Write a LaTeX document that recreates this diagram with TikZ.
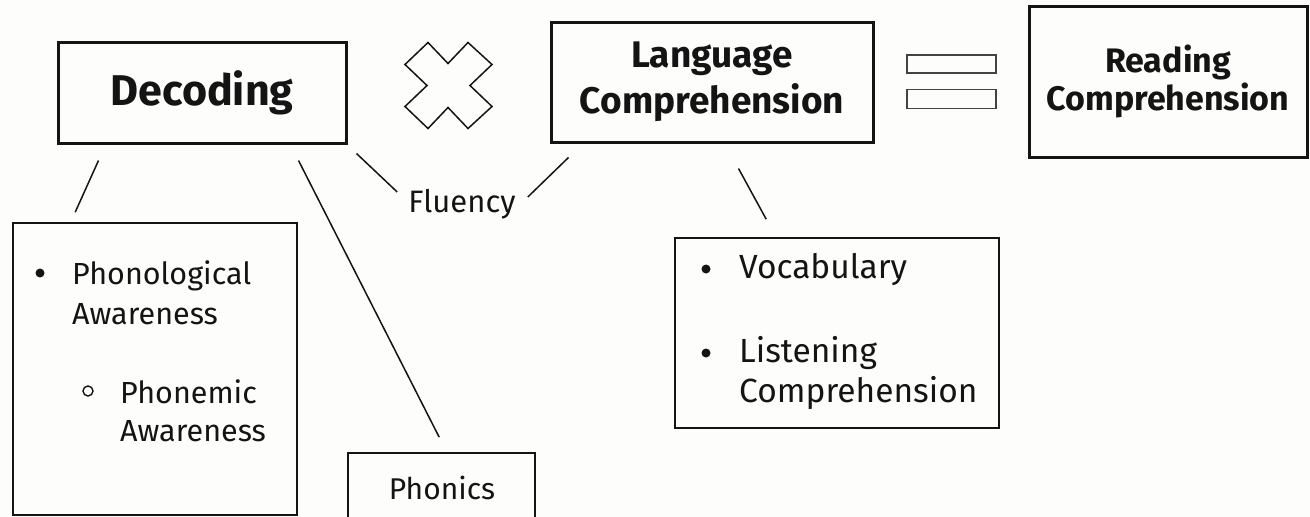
\documentclass[tikz,border=0pt]{standalone}
\usepackage{fontspec}
\setmainfont{Fira Sans}
\usetikzlibrary{positioning,calc}
\definecolor{ink}{HTML}{141414}
\definecolor{paper}{HTML}{FDFDFB}
\tikzset{
  title/.style = {draw=ink, line width=3pt, text=ink, align=center, inner sep=0pt},
  list/.style  = {draw=ink, line width=1.6pt, inner sep=0pt},
  item/.style  = {anchor=west, text=ink, align=left, inner sep=0pt},
  dot/.style   = {circle, fill=ink, minimum size=9pt, inner sep=0pt},
  ring/.style  = {circle, draw=ink, line width=1.4pt, minimum size=10pt, inner sep=0pt},
  tie/.style   = {draw=ink, line width=1.5pt},
}

\begin{document}
\begin{tikzpicture}[x=1pt, y=-1pt]
  \useasboundingbox[fill=paper] (0,0) rectangle (1310,517);
  % top row
  \node[title, minimum width=288pt, minimum height=101pt,
        font=\bfseries\fontsize{43}{46}\selectfont] (dec) at (202,92.5) {Decoding};
  \node[title, minimum width=322pt, minimum height=120pt,
        font=\bfseries\fontsize{37}{46}\selectfont] (lang) at (712,82) {Language\\Comprehension};
  \node[title, minimum width=278pt, minimum height=151pt,
        font=\bfseries\fontsize{34}{38}\selectfont] (read) at (1168,81.5) {Reading\\Comprehension};
  % times sign
  \coordinate (times) at (448,85.5);
  \draw[tie, line join=miter] (times)
    ++(-20,-43) -- ++(20,21) -- ++(20,-21) -- ++(24,22) -- ++(-22,21) -- ++(22,21)
    -- ++(-24,22) -- ++(-20,-21) -- ++(-20,21) -- ++(-23,-22) -- ++(22,-21) -- ++(-22,-21) -- cycle;
  % equals sign
  \node[draw=ink!80, line width=1.4pt, minimum width=89pt, minimum height=18pt, inner sep=0pt] (eqa) at (951.5,64) {};
  \node[draw=ink!80, line width=1.4pt, minimum width=89pt, minimum height=19pt, inner sep=0pt] (eqb) at (951.5,99) {};
  % lower boxes
  \node[list, minimum width=284pt, minimum height=292pt] (phono) at (155,369) {};
  \node[list, minimum width=187pt, minimum height=80pt] (phonics) at (441.5,493) {};
  \node[list, minimum width=324pt, minimum height=190pt] (vocab) at (837,333) {};
  \node[text=ink, inner sep=0pt, font=\fontsize{30}{32}\selectfont] (phonicstxt) at (442,488) {Phonics};
  \node[text=ink, inner sep=0pt, font=\fontsize{31}{32}\selectfont] (flu) at (462,204) {Fluency};
  % list items
  \node[dot] (b1) at (40,273) {};
  \node[item, font=\fontsize{30.5}{40}\selectfont] (pa) at (72,293) {Phonological\\Awareness};
  \node[ring] (b2) at (88,391) {};
  \node[item, font=\fontsize{30.5}{38}\selectfont] (pm) at (120,411) {Phonemic\\Awareness};
  \node[dot] (b3) at (706,269) {};
  \node[item, font=\fontsize{33.5}{40}\selectfont] (voc) at (739,270) {Vocabulary};
  \node[dot] (b4) at (706,353) {};
  \node[item, font=\fontsize{33.5}{40}\selectfont] (lis) at (739,373) {Listening\\Comprehension};
  % connectors
  \coordinate (d1) at ($(dec.south west)+(42,16)$);
  \coordinate (p1) at ($(phono.north west)+(63,-10)$);
  \coordinate (d2) at ($(dec.south west)+(242,16)$);
  \coordinate (p2) at ($(phonics.north west)+(92,-15)$);
  \coordinate (d3) at ($(dec.south east)+(9,9)$);
  \coordinate (f1) at ($(flu.west)+(-11,-12)$);
  \coordinate (f2) at ($(flu.east)+(12,-7)$);
  \coordinate (l1) at ($(lang.south west)+(19,14)$);
  \coordinate (l2) at ($(lang.south west)+(189,25)$);
  \coordinate (v1) at ($(vocab.north west)+(92,-18)$);
  \draw[tie] (d1) -- (p1);
  \draw[tie] (d2) -- (p2);
  \draw[tie] (d3) -- (f1);
  \draw[tie] (f2) -- (l1);
  \draw[tie] (l2) -- (v1);
\end{tikzpicture}
\end{document}
